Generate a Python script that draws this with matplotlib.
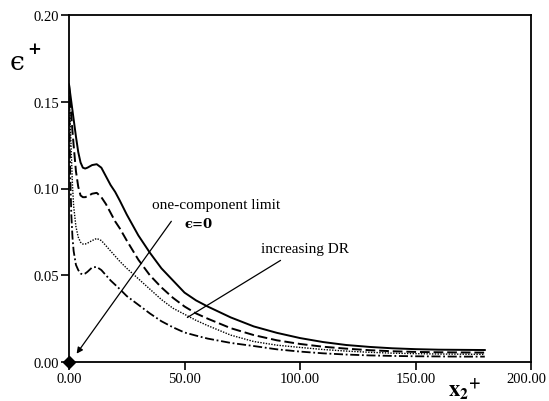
import matplotlib
matplotlib.use("Agg")
import matplotlib.pyplot as plt
import matplotlib.transforms as mtransforms

plt.rcParams['font.family'] = ['Liberation Serif', 'DejaVu Serif']
plt.rcParams['mathtext.fontset'] = 'stix'

x_plus = [0, 0.5, 1, 1.5, 2, 3, 4, 5, 6, 7, 8, 10, 12, 14, 16, 18, 20, 22, 25, 30,
          35, 40, 45, 50, 55, 60, 70, 80, 90, 100, 110, 120, 130, 140, 150, 160, 170, 180]

eps_solid = [0.160, 0.155, 0.150, 0.145, 0.140, 0.130, 0.121, 0.115, 0.112, 0.1115, 0.112,
             0.1135, 0.114, 0.112, 0.107, 0.102, 0.098, 0.093, 0.085, 0.073, 0.063, 0.054,
             0.047, 0.040, 0.0355, 0.032, 0.0257, 0.0205, 0.0168, 0.0138, 0.0115, 0.0098,
             0.0087, 0.0079, 0.0074, 0.0071, 0.0070, 0.0069]
eps_dashed = [0.160, 0.151, 0.142, 0.133, 0.125, 0.110, 0.101, 0.096, 0.095, 0.095, 0.0955,
              0.097, 0.0975, 0.095, 0.091, 0.086, 0.081, 0.077, 0.070, 0.059, 0.050, 0.043,
              0.037, 0.032, 0.028, 0.025, 0.0195, 0.0155, 0.0125, 0.0104, 0.0088, 0.0077,
              0.0068, 0.0062, 0.0058, 0.0056, 0.0055, 0.0054]
eps_dotted = [0.160, 0.140, 0.120, 0.102, 0.090, 0.078, 0.072, 0.069, 0.068, 0.068, 0.0685,
              0.070, 0.0712, 0.070, 0.067, 0.064, 0.061, 0.058, 0.054, 0.048, 0.042, 0.036,
              0.031, 0.0275, 0.024, 0.021, 0.0155, 0.0118, 0.0097, 0.0084, 0.0072, 0.0063,
              0.0056, 0.0051, 0.0048, 0.0046, 0.0045, 0.0044]
eps_dashdot = [0.160, 0.110, 0.085, 0.072, 0.064, 0.056, 0.053, 0.051, 0.0505, 0.051, 0.052,
               0.0545, 0.0548, 0.053, 0.050, 0.047, 0.0445, 0.042, 0.038, 0.033, 0.028, 0.0235,
               0.020, 0.017, 0.0152, 0.0135, 0.011, 0.0092, 0.0073, 0.0060, 0.0050, 0.0043,
               0.0038, 0.0035, 0.0033, 0.0032, 0.0031, 0.0031]

x_ticks = [0, 50, 100, 150, 200]
x_tick_labels = ["0.00", "50.00", "100.00", "150.00", "200.00"]
y_ticks = [0.00, 0.05, 0.10, 0.15, 0.20]
y_tick_labels = ["0.00", "0.05", "0.10", "0.15", "0.20"]

fig = plt.figure(figsize=(5.49, 4.02), dpi=100)
ax = fig.add_axes([69/549, 39/402, (531-69)/549, (363-16)/402])

ax.plot(x_plus, eps_solid, color='black', lw=1.4, ls='-')
ax.plot(x_plus, eps_dashed, color='black', lw=1.4, ls=(0, (5, 2)))
ax.plot(x_plus, eps_dotted, color='black', lw=1.0, ls=(0, (1, 1.0)))
ax.plot(x_plus, eps_dashdot, color='black', lw=1.3, ls=(0, (5, 1.5, 1, 1.5)))

ax.plot([0], [0], marker='D', color='black', ms=6, clip_on=False, zorder=5)

ax.set_xlim(0, 200)
ax.set_ylim(0, 0.20)
ax.set_xticks(x_ticks)
ax.set_xticklabels(x_tick_labels)
ax.set_yticks(y_ticks)
ax.set_yticklabels(y_tick_labels)
ax.tick_params(direction='out', length=6, width=1.2, labelsize=10.5, pad=1)
for s in ax.spines.values():
    s.set_linewidth(1.3)

# keep the last x tick label inside the figure
last = ax.get_xticklabels()[-1]
last.set_transform(last.get_transform() +
                   mtransforms.ScaledTranslation(-5/100, 0, fig.dpi_scale_trans))

# annotations
ax.annotate("", xy=(2.6, 0.0035), xytext=(45.0, 0.0824),
            arrowprops=dict(arrowstyle='-|>', color='black', lw=0.9, mutation_scale=9))
ax.text(63.6, 0.091, "one-component limit", ha='center', va='center', fontsize=11)
ax.text(56.3, 0.080, "\u03f5=0", ha='center', va='center', fontsize=9.5,
        fontweight='bold', family=['DejaVu Serif'])
ax.annotate("", xy=(50.2, 0.0248), xytext=(92.6, 0.0594),
            arrowprops=dict(arrowstyle='-', color='black', lw=0.9))
ax.text(102.2, 0.0657, "increasing DR", ha='center', va='center', fontsize=11)

fig.text(10/549, 1 - 62/402, "\u03f5", fontsize=19, ha='left', va='center',
         family=['DejaVu Serif'])
fig.text(27/549, 1 - 50/402, "+", fontsize=12, ha='left', va='center',
         fontweight='bold', family=['DejaVu Serif'])
fig.text(465/549, 1 - 390/402, r"$\mathbf{x_{2}}^{\mathbf{+}}$", fontsize=16, ha='center', va='center')

fig.savefig("out.png", dpi=100)
